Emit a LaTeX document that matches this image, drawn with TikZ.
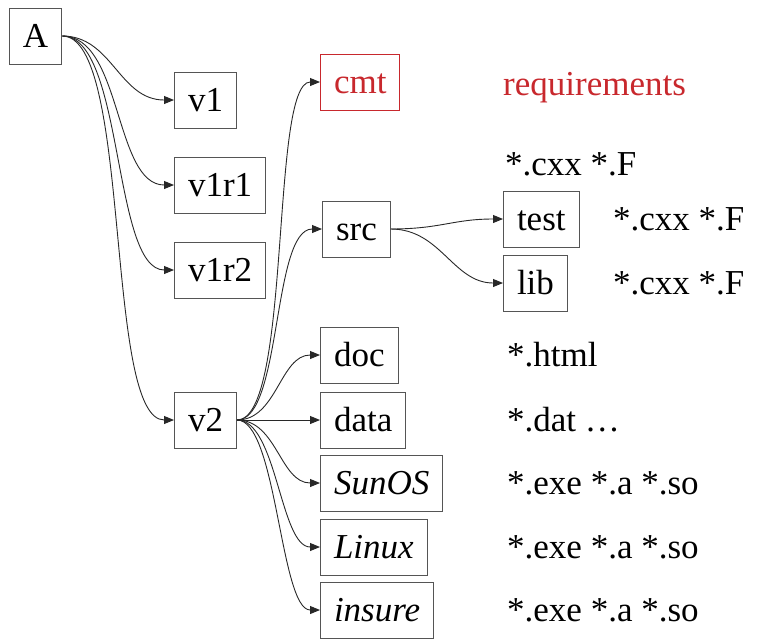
\documentclass[tikz,border=0pt]{standalone}
\usepackage{fontspec}
\setmainfont{Liberation Serif}
\newfontfamily\libserif{Liberation Serif}
\usetikzlibrary{arrows.meta}
\definecolor{boxgray}{RGB}{85,85,85}
\definecolor{edgegray}{RGB}{40,40,40}
\definecolor{cmtred}{RGB}{200,40,45}
\begin{document}
\begin{tikzpicture}[x=1pt,y=-1pt,
  every node/.style={font=\libserif\fontsize{35}{40}\selectfont},
  dirbox/.style={draw=boxgray,line width=1pt,anchor=west,inner xsep=13.5pt,inner ysep=0pt,
     minimum height=56pt,text height=23pt,text depth=0pt},
  redbox/.style={dirbox,draw=cmtred,text=cmtred},
  ftext/.style={anchor=west,inner sep=0pt,text height=23pt,text depth=0pt},
  link/.style={draw=edgegray,line width=0.9pt,-{Triangle[length=10pt,width=8pt]}}]
\useasboundingbox (0,0) rectangle (757,638);
% nodes
\node[dirbox] (A) at (9,36) {A};
\node[dirbox] (v1) at (174,100) {v1};
\node[dirbox] (v1r1) at (174,185) {v1r1};
\node[dirbox] (v1r2) at (174,270) {v1r2};
\node[dirbox] (v2) at (174,420) {v2};
\node[redbox] (cmt) at (320,82) {cmt};
\node[dirbox] (src) at (322,229) {src};
\node[dirbox] (doc) at (320,355) {doc};
\node[dirbox] (data) at (320,420) {data};
\node[dirbox] (sunos) at (320,483) {\itshape SunOS};
\node[dirbox] (linux) at (320,547) {\itshape Linux};
\node[dirbox] (insure) at (320,610) {\itshape insure};
\node[dirbox] (test) at (503,219) {test};
\node[dirbox] (lib) at (503,283) {lib};
% file texts
\node[ftext,text=cmtred] (req) at (503,84) {requirements};
\node[ftext] (fsrc) at (505,164) {*.cxx *.F};
\node[ftext] (ftest) at (613,219) {*.cxx *.F};
\node[ftext] (flib) at (613,283) {*.cxx *.F};
\node[ftext] (fdoc) at (507,355) {*.html};
\node[ftext] (fdata) at (507,420) {*.dat …};
\node[ftext] (fsun) at (507,483) {*.exe *.a *.so};
\node[ftext] (flinux) at (507,547) {*.exe *.a *.so};
\node[ftext] (finsure) at (507,610) {*.exe *.a *.so};
% edges from A
\draw[link] (A.east) to[out=0,in=180,out distance=50pt,in distance=55pt] (v1.west);
\draw[link] (A.east) to[out=0,in=180,out distance=60pt,in distance=60pt] (v1r1.west);
\draw[link] (A.east) to[out=0,in=180,out distance=62pt,in distance=62pt] (v1r2.west);
\draw[link] (A.east) to[out=0,in=180,out distance=70pt,in distance=70pt] (v2.west);
% edges from v2
\draw[link] (v2.east) to[out=0,in=180,out distance=55pt,in distance=50pt] (cmt.west);
\draw[link] (v2.east) to[out=0,in=180,out distance=45pt,in distance=50pt] (src.west);
\draw[link] (v2.east) to[out=0,in=180,out distance=40pt,in distance=40pt] (doc.west);
\draw[link] (v2.east) -- (data.west);
\draw[link] (v2.east) to[out=0,in=180,out distance=40pt,in distance=40pt] (sunos.west);
\draw[link] (v2.east) to[out=0,in=180,out distance=40pt,in distance=40pt] (linux.west);
\draw[link] (v2.east) to[out=0,in=180,out distance=40pt,in distance=40pt] (insure.west);
% edges from src
\draw[link] (src.east) to[out=0,in=180,out distance=50pt,in distance=50pt] (test.west);
\draw[link] (src.east) to[out=0,in=180,out distance=50pt,in distance=50pt] (lib.west);
\end{tikzpicture}
\end{document}
